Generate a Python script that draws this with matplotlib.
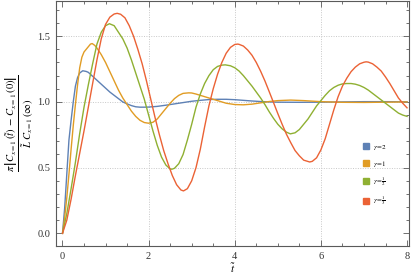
#!/usr/bin/env python3
"""Damped response curves for several gamma values (Mathematica-style frame)."""

import matplotlib
matplotlib.use("Agg")
import matplotlib.pyplot as plt
from matplotlib.lines import Line2D
from matplotlib.ticker import MultipleLocator

plt.rcParams["mathtext.fontset"] = "stix"
plt.rcParams["font.family"] = ["Liberation Serif", "DejaVu Serif"]

# values
t_blue = [0, 0.05, 0.1, 0.15, 0.2, 0.25, 0.3, 0.35, 0.4, 0.47, 0.55, 0.6, 0.7, 0.8, 0.9,
          1.0, 1.1, 1.2, 1.3, 1.4, 1.5, 1.6, 1.7, 1.8, 1.9, 2.0, 2.2, 2.4, 2.6, 2.8, 3.0,
          3.2, 3.4, 3.6, 3.8, 4.0, 4.2, 4.4, 4.6, 4.8, 5.0, 5.5, 6.0, 6.5, 7.0, 7.5, 8.0]
y_blue = [0, 0.19, 0.45, 0.71, 0.86, 1.0, 1.12, 1.185, 1.22, 1.237, 1.232, 1.225, 1.195,
          1.165, 1.135, 1.105, 1.075, 1.05, 1.025, 1.0, 0.985, 0.972, 0.963, 0.96, 0.96,
          0.961, 0.966, 0.975, 0.985, 0.995, 1.005, 1.012, 1.018, 1.02, 1.02, 1.017, 1.012,
          1.007, 1.003, 1.0, 0.998, 0.997, 0.998, 1.0, 1.002, 1.002, 1.001]

t_orange = [0, 0.05, 0.1, 0.15, 0.2, 0.25, 0.3, 0.35, 0.4, 0.45, 0.5, 0.55, 0.6, 0.65, 0.69,
            0.75, 0.8, 0.9, 1.0, 1.1, 1.2, 1.3, 1.4, 1.5, 1.6, 1.7, 1.8, 1.9, 2.0, 2.1, 2.2,
            2.3, 2.4, 2.5, 2.6, 2.7, 2.8, 2.93, 3.0, 3.1, 3.2, 3.4, 3.6, 3.8, 4.0, 4.2, 4.4,
            4.6, 4.8, 5.0, 5.3, 5.6, 6.0, 6.5, 7.0, 7.5, 8.0]
y_orange = [0, 0.12, 0.27, 0.45, 0.64, 0.82, 0.98, 1.13, 1.26, 1.34, 1.38, 1.40, 1.42, 1.44,
            1.444, 1.43, 1.41, 1.36, 1.30, 1.23, 1.16, 1.09, 1.03, 0.98, 0.93, 0.89, 0.86,
            0.843, 0.838, 0.845, 0.87, 0.91, 0.95, 0.99, 1.025, 1.05, 1.065, 1.069, 1.068,
            1.06, 1.05, 1.03, 1.01, 0.99, 0.98, 0.978, 0.983, 0.993, 1.003, 1.01, 1.014,
            1.01, 1.002, 0.997, 0.996, 0.998, 1.0]

t_green = [0, 0.1, 0.2, 0.3, 0.4, 0.5, 0.6, 0.7, 0.8, 0.9, 1.0, 1.09, 1.2, 1.3, 1.4, 1.5,
           1.6, 1.7, 1.8, 1.9, 2.0, 2.1, 2.2, 2.3, 2.4, 2.5, 2.54, 2.6, 2.7, 2.8, 2.9, 3.0,
           3.1, 3.2, 3.3, 3.4, 3.5, 3.6, 3.7, 3.78, 3.9, 4.0, 4.1, 4.2, 4.3, 4.4, 4.5, 4.6,
           4.7, 4.8, 4.9, 5.0, 5.1, 5.2, 5.29, 5.4, 5.5, 5.6, 5.7, 5.8, 5.9, 6.0, 6.1, 6.2,
           6.3, 6.4, 6.5, 6.6, 6.7, 6.8, 6.9, 7.0, 7.1, 7.2, 7.3, 7.4, 7.5, 7.6, 7.7, 7.8,
           7.9, 8.0]
y_green = [0, 0.15, 0.34, 0.54, 0.76, 0.96, 1.13, 1.29, 1.44, 1.53, 1.58, 1.595, 1.58, 1.53,
           1.48, 1.41, 1.32, 1.22, 1.12, 1.02, 0.90, 0.78, 0.67, 0.58, 0.52, 0.49, 0.488,
           0.495, 0.53, 0.60, 0.71, 0.83, 0.96, 1.06, 1.14, 1.20, 1.245, 1.27, 1.28, 1.282,
           1.275, 1.26, 1.235, 1.20, 1.16, 1.12, 1.075, 1.03, 0.98, 0.925, 0.875, 0.83,
           0.795, 0.77, 0.757, 0.765, 0.79, 0.83, 0.87, 0.92, 0.97, 1.01, 1.05, 1.085, 1.11,
           1.127, 1.137, 1.14, 1.14, 1.135, 1.125, 1.11, 1.09, 1.065, 1.04, 1.015, 0.99,
           0.965, 0.94, 0.915, 0.90, 0.89]

t_red = [0, 0.1, 0.2, 0.3, 0.4, 0.5, 0.6, 0.7, 0.8, 0.9, 1.0, 1.1, 1.2, 1.27, 1.35, 1.45,
         1.55, 1.65, 1.75, 1.85, 1.95, 2.05, 2.15, 2.25, 2.35, 2.45, 2.55, 2.65, 2.75, 2.81,
         2.9, 3.0, 3.1, 3.2, 3.3, 3.4, 3.5, 3.6, 3.7, 3.8, 3.9, 4.0, 4.07, 4.1, 4.2, 4.3,
         4.4, 4.5, 4.6, 4.7, 4.8, 4.9, 5.0, 5.1, 5.2, 5.3, 5.4, 5.5, 5.6, 5.74, 5.8, 5.9,
         6.0, 6.1, 6.2, 6.3, 6.4, 6.5, 6.6, 6.7, 6.8, 6.9, 7.0, 7.05, 7.1, 7.2, 7.3, 7.4,
         7.5, 7.6, 7.7, 7.8, 7.9, 8.0]
y_red = [0, 0.10, 0.26, 0.44, 0.61, 0.78, 0.96, 1.14, 1.32, 1.48, 1.59, 1.645, 1.669, 1.674,
         1.667, 1.64, 1.58, 1.50, 1.40, 1.29, 1.16, 1.02, 0.88, 0.75, 0.63, 0.53, 0.44, 0.37,
         0.33, 0.323, 0.34, 0.40, 0.50, 0.64, 0.81, 0.97, 1.10, 1.21, 1.30, 1.37, 1.415,
         1.437, 1.44, 1.438, 1.425, 1.395, 1.355, 1.30, 1.234, 1.16, 1.078, 0.995, 0.911,
         0.83, 0.754, 0.69, 0.63, 0.59, 0.557, 0.543, 0.548, 0.575, 0.635, 0.72, 0.83, 0.94,
         1.04, 1.12, 1.18, 1.23, 1.265, 1.29, 1.302, 1.305, 1.303, 1.29, 1.265, 1.235, 1.19,
         1.14, 1.085, 1.03, 0.99, 0.955]

series = [
    (t_blue, y_blue, "#5E81B5", r"$\gamma\!=\!2$"),
    (t_orange, y_orange, "#E19C24", r"$\gamma\!=\!1$"),
    (t_green, y_green, "#8FB032", r"$\gamma\!=\!\frac{1}{2}$"),
    (t_red, y_red, "#EB6235", r"$\gamma\!=\!\frac{1}{3}$"),
]

fig = plt.figure(figsize=(4.15, 2.77), dpi=100)
ax = fig.add_axes([0.135, 0.112, 0.851, 0.884])

for t, y, color, _ in series:
    ax.plot(t, y, color=color, lw=1.0, solid_joinstyle="round")

ax.set_xlim(-0.15, 8.05)
ax.set_ylim(-0.096, 1.767)

for gx in (2, 4, 6):
    ax.axvline(gx, color="#c8c8c8", lw=0.7, ls=(0, (1, 1.5)), zorder=0)
for gy in (0.5, 1.0, 1.5):
    ax.axhline(gy, color="#c8c8c8", lw=0.7, ls=(0, (1, 1.5)), zorder=0)

ax.xaxis.set_major_locator(MultipleLocator(2))
ax.xaxis.set_minor_locator(MultipleLocator(0.5))
ax.yaxis.set_major_locator(MultipleLocator(0.5))
ax.yaxis.set_minor_locator(MultipleLocator(0.1))
ax.xaxis.set_major_formatter(plt.FuncFormatter(lambda v, p: f"{v:.0f}"))
ax.yaxis.set_major_formatter(plt.FuncFormatter(lambda v, p: f"{v:.1f}"))

frame_col = "#5a5a5a"
for sp in ax.spines.values():
    sp.set_color(frame_col)
    sp.set_linewidth(0.8)
ax.tick_params(which="both", direction="in", top=True, right=True, color=frame_col,
               labelsize=7.5, labelcolor="#333333", width=0.6)
ax.tick_params(which="major", length=4, pad=4)
ax.tick_params(which="minor", length=2)

ax.set_xlabel(r"$\tilde{t}$", fontsize=8, labelpad=0)
ax.set_ylabel(r"$\frac{\pi\,\left|C_{x=1}\,(\tilde{t})\,-\,C_{x=1}\,(0)\right|}"
              r"{\tilde{L}\;C_{x=1}\,(\infty)}$", fontsize=11, labelpad=1)

handles = [Line2D([], [], ls="none", marker="s", markersize=5, color=c) for _, _, c, _ in series]
labels = [lab for _, _, _, lab in series]
ax.legend(handles, labels, loc="center left", bbox_to_anchor=(0.86, 0.29), frameon=False,
          fontsize=5, handlelength=0.8, handletextpad=0.6, labelspacing=1.0, borderpad=0)

fig.savefig("out.png", dpi=100)
